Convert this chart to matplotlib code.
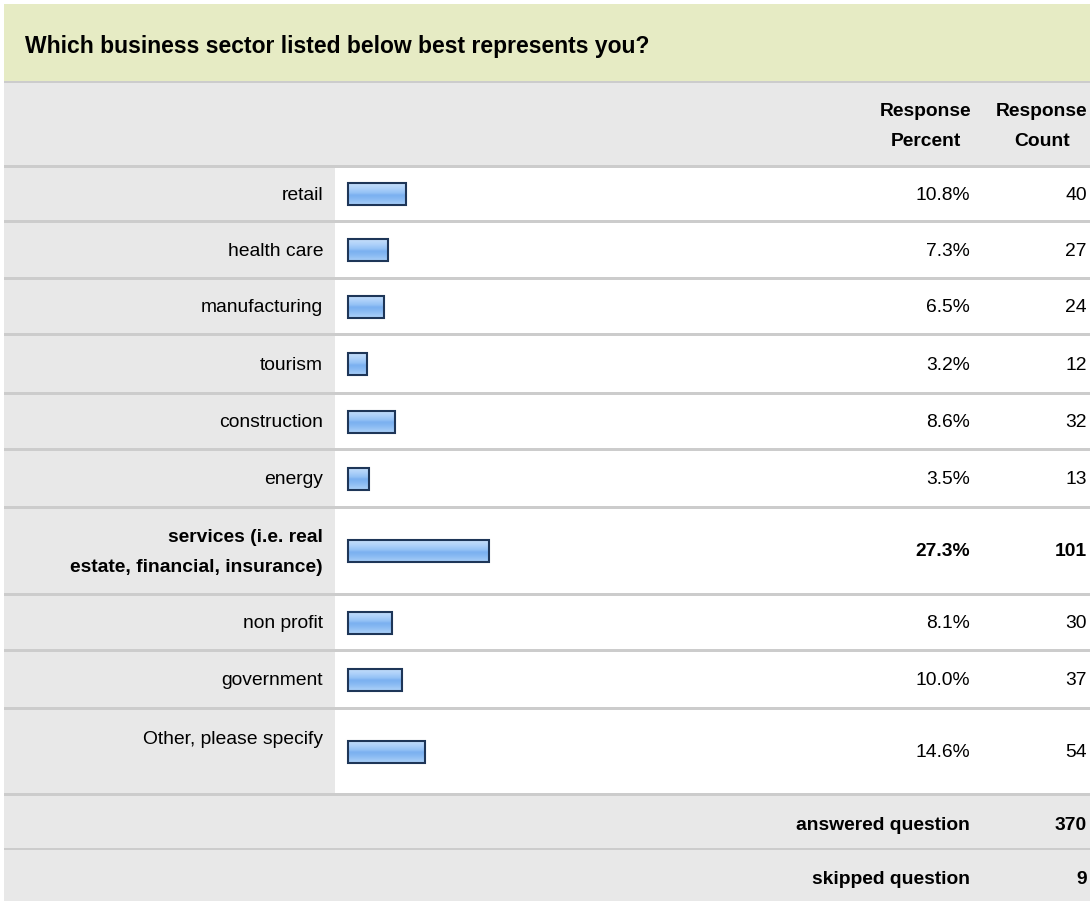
import matplotlib
matplotlib.use("Agg")
import matplotlib.pyplot as plt
from matplotlib.patches import Rectangle
import numpy as np

# survey data
question = "Which business sector listed below best represents you?"
categories = ["retail", "health care", "manufacturing", "tourism", "construction",
              "energy", "services (i.e. real\nestate, financial, insurance)",
              "non profit", "government", "Other, please specify"]
percents = [10.8, 7.3, 6.5, 3.2, 8.6, 3.5, 27.3, 8.1, 10.0, 14.6]
counts = [40, 27, 24, 12, 32, 13, 101, 30, 37, 54]
answered = 370
skipped = 9

plt.rcParams['font.family'] = ['Liberation Sans', 'DejaVu Sans']
FS = 13.9

fig = plt.figure(figsize=(10.9, 9.01), dpi=100)
ax = fig.add_axes([0, 0, 1, 1])
ax.set_xlim(0, 1090)
ax.set_ylim(901, 0)
ax.axis("off")

W = 1090
x0 = 4
sep = "#cccccc"
grey = "#e8e8e8"

# title band
ax.add_patch(Rectangle((x0, 4), W - x0, 77, color="#e6ebc4", lw=0))
ax.add_patch(Rectangle((x0, 81), W - x0, 2, color=sep, lw=0))
ax.text(25, 46, question, fontsize=16.5, fontweight="bold", va="center", ha="left")

# header
ax.add_patch(Rectangle((x0, 83), W - x0, 82, color=grey, lw=0))
ax.text(926, 112, "Response", fontsize=FS, fontweight="bold", ha="center", va="center")
ax.text(926, 141, "Percent", fontsize=FS, fontweight="bold", ha="center", va="center")
ax.text(1087, 112, "Response", fontsize=FS, fontweight="bold", ha="right", va="center")
ax.text(1042, 141, "Count", fontsize=FS, fontweight="bold", ha="center", va="center")

# row layout (pixel tops of separators)
seps = [165, 220, 277, 333, 392, 448, 506, 593, 649, 707, 793]
tops = [s + 3 for s in seps[:-1]]
bottoms = seps[1:]
centers = [(t + b) / 2 for t, b in zip(tops, bottoms)]

for s in seps:
    ax.add_patch(Rectangle((x0, s), W - x0, 3, color=sep, lw=0))
for t, b in zip(tops, bottoms):
    ax.add_patch(Rectangle((x0, t), 335 - x0, b - t, color=grey, lw=0))

# bars
scale = 5.06
bars = ax.barh(centers, [p * scale + 3 for p in percents], left=348, height=22,
               color="#8dbdf3", edgecolor="#1e3658", linewidth=1.5, zorder=3)
grad = np.array([0.0, 0.2, 0.45, 0.55, 0.7, 1.0])
cols = np.array([[0.77, 0.87, 0.98], [0.70, 0.83, 0.98], [0.58, 0.76, 0.96],
                 [0.48, 0.69, 0.94], [0.52, 0.72, 0.95], [0.66, 0.81, 0.97]])
yy = np.linspace(0, 1, 40)
img = np.stack([np.interp(yy, grad, cols[:, k]) for k in range(3)], axis=1)[:, None, :]
for b in bars:
    x, y = b.get_x(), b.get_y()
    w, h = b.get_width(), b.get_height()
    im = ax.imshow(img, extent=(x, x + w, y + h, y), aspect="auto", zorder=2.5,
                   interpolation="bilinear")
    im.set_clip_path(b)
    b.set_facecolor("none")
ax.set_xlim(0, 1090)
ax.set_ylim(901, 0)

for i, (cat, p, c, yc) in enumerate(zip(categories, percents, counts, centers)):
    bold = "services" in cat
    fw = "bold" if bold else "normal"
    ly = yc if not cat.startswith("Other") else tops[i] + 28
    ax.text(323, ly + 1, cat, fontsize=FS, fontweight=fw, ha="right", va="center",
            linespacing=2.0)
    ax.text(970, yc + 1, f"{p:.1f}%", fontsize=FS, fontweight=fw, ha="right", va="center")
    ax.text(1087, yc + 1, str(c), fontsize=FS, fontweight=fw, ha="right", va="center")

# summary rows
ax.add_patch(Rectangle((x0, 796), W - x0, 52, color=grey, lw=0))
ax.add_patch(Rectangle((x0, 848), W - x0, 2, color=sep, lw=0))
ax.add_patch(Rectangle((x0, 850), W - x0, 51, color=grey, lw=0))
ax.text(970, 826, "answered question", fontsize=FS, fontweight="bold", ha="right", va="center")
ax.text(1087, 826, str(answered), fontsize=FS, fontweight="bold", ha="right", va="center")
ax.text(970, 880, "skipped question", fontsize=FS, fontweight="bold", ha="right", va="center")
ax.text(1087, 880, str(skipped), fontsize=FS, fontweight="bold", ha="right", va="center")

fig.savefig("out.png", dpi=100)
